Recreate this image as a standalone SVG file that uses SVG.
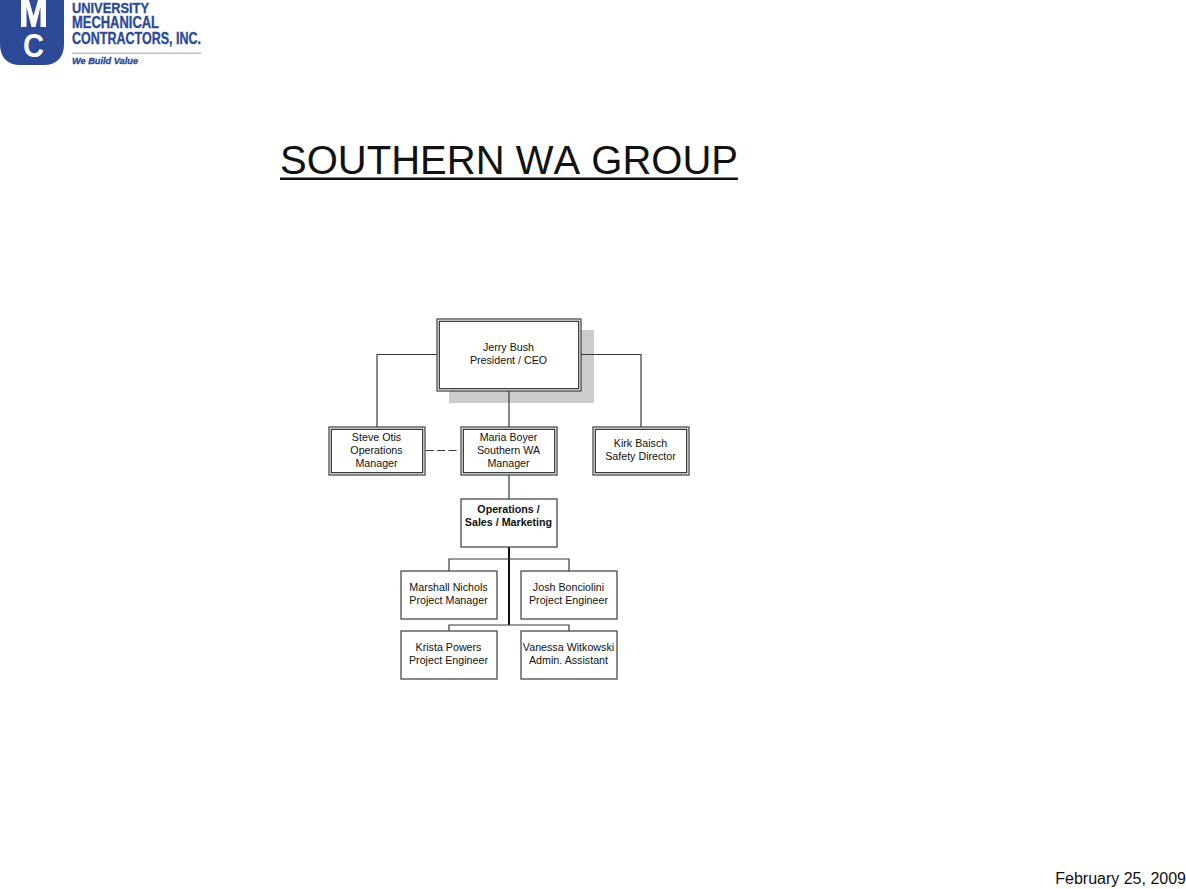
<svg xmlns="http://www.w3.org/2000/svg" width="1186" height="889" viewBox="0 0 1186 889">
<style>
text{font-family:"Liberation Sans",Arial,sans-serif;fill:#111}
.n{font-size:10.7px;text-anchor:middle}
.b{font-weight:bold}
.o{fill:#fff;stroke:#3a3a3a;stroke-width:1.2}
.i{fill:none;stroke:#2a2a2a;stroke-width:1.2}
.c{fill:none;stroke:#3a3a3a;stroke-width:1.2}
.logo{font-weight:bold;fill:#2d4a96;stroke:#2d4a96;stroke-width:.35}
</style>
<rect width="1186" height="889" fill="#fff"/>
<g id="logo">
<path d="M0 0H64V44C64 58 56 65 44 65H20C8 65 0 58 0 44Z" fill="#2d4a96"/>
<path d="M21 0H29L33.500 16 38 0H46V27H40.500V7L35.500 27H31.500L26.500 7V27H21Z" fill="#fff"/>
<text x="33.500" y="57" text-anchor="middle" style="font-weight:bold;font-size:34px;fill:#fff" textLength="21" lengthAdjust="spacingAndGlyphs">C</text>
<text class="logo" x="72" y="12.500" font-size="15.500" textLength="77" lengthAdjust="spacingAndGlyphs">UNIVERSITY</text>
<text class="logo" x="72" y="28" font-size="16.500" textLength="87" lengthAdjust="spacingAndGlyphs">MECHANICAL</text>
<text class="logo" x="72" y="44" font-size="16.500" textLength="129" lengthAdjust="spacingAndGlyphs">CONTRACTORS, INC.</text>
<rect x="72" y="52.500" width="129" height="1.500" fill="#b9c2dc"/>
<text class="logo" x="72" y="63.500" font-size="9" font-style="italic" textLength="66" lengthAdjust="spacingAndGlyphs">We Build Value</text>
</g>
<g id="title">
<text x="280" y="174" font-size="40" style="font-kerning:none" textLength="458" lengthAdjust="spacingAndGlyphs">SOUTHERN WA GROUP</text>
<rect x="280" y="177.500" width="458" height="2.500" fill="#111"/>
</g>
<rect id="shadow" x="449" y="330" width="145" height="73" fill="#cccccc"/>
<g id="connectors">
<path class="c" d="M437 354.500H377V427M581 354.500H641V427M509 391V427M509 475V499"/>
<path class="c" d="M425.500 450.500H457.500" stroke-dasharray="8 3.500"/>
<path class="c" style="stroke-width:2;stroke:#111" d="M509 547V625"/>
<path class="c" d="M449 571V559H569V571M449 631V625H569V631"/>
</g>
<g id="jerry"><rect class="o" x="437" y="319" width="144" height="72"/><rect class="i" x="439.300" y="321.300" width="139.400" height="67.400"/>
<text class="n" x="508.500" y="351">Jerry Bush</text><text class="n" x="508.500" y="364">President / CEO</text></g>
<g id="steve"><rect class="o" x="329" y="427" width="96" height="48"/><rect class="i" x="331.300" y="429.300" width="91.400" height="43.400"/>
<text class="n" x="376.500" y="441">Steve Otis</text><text class="n" x="376.500" y="454">Operations</text><text class="n" x="376.500" y="467">Manager</text></g>
<g id="maria"><rect class="o" x="461" y="427" width="96" height="48"/><rect class="i" x="463.300" y="429.300" width="91.400" height="43.400"/>
<text class="n" x="508.500" y="441">Maria Boyer</text><text class="n" x="508.500" y="454">Southern WA</text><text class="n" x="508.500" y="467">Manager</text></g>
<g id="kirk"><rect class="o" x="593" y="427" width="96" height="48"/><rect class="i" x="595.300" y="429.300" width="91.400" height="43.400"/>
<text class="n" x="640.500" y="447">Kirk Baisch</text><text class="n" x="640.500" y="460">Safety Director</text></g>
<g id="ops"><rect class="o" x="461" y="499" width="96" height="48"/>
<text class="n b" x="508.500" y="513">Operations /</text><text class="n b" x="508.500" y="526">Sales / Marketing</text></g>
<g id="marshall"><rect class="o" x="401" y="571" width="96" height="48"/>
<text class="n" x="448.500" y="591">Marshall Nichols</text><text class="n" x="448.500" y="604">Project Manager</text></g>
<g id="josh"><rect class="o" x="521" y="571" width="96" height="48"/>
<text class="n" x="568.500" y="591">Josh Bonciolini</text><text class="n" x="568.500" y="604">Project Engineer</text></g>
<g id="krista"><rect class="o" x="401" y="631" width="96" height="48"/>
<text class="n" x="448.500" y="651">Krista Powers</text><text class="n" x="448.500" y="664">Project Engineer</text></g>
<g id="vanessa"><rect class="o" x="521" y="631" width="96" height="48"/>
<text class="n" x="568.500" y="651">Vanessa Witkowski</text><text class="n" x="568.500" y="664">Admin. Assistant</text></g>
<text id="date" x="1186" y="884" font-size="16" text-anchor="end">February 25, 2009</text>
</svg>
